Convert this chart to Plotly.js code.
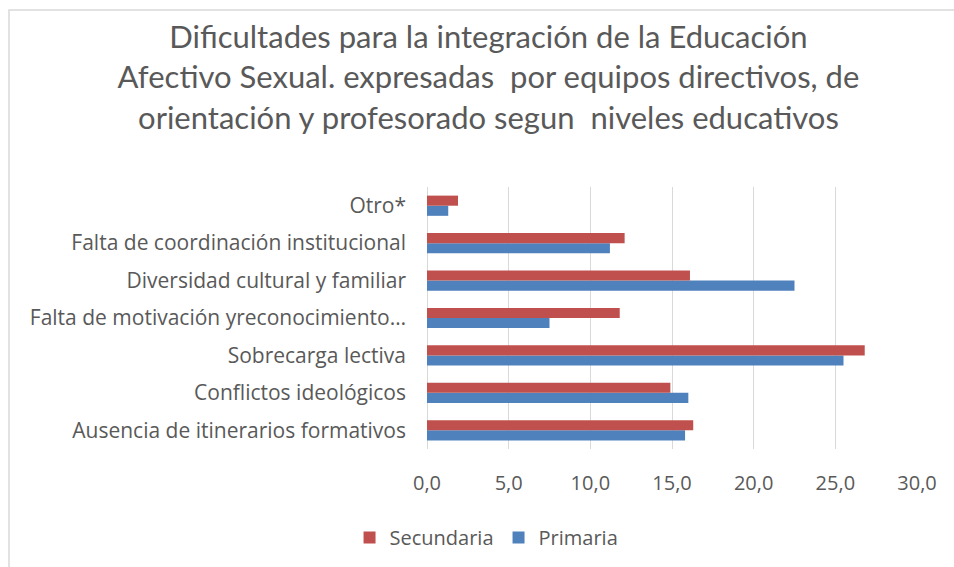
<!DOCTYPE html>
<html>
<head>
<meta charset="utf-8">
<script src="https://cdn.plot.ly/plotly-3.0.1.min.js"></script>
<style>html,body{margin:0;padding:0;background:#fff;}#chart{width:954px;height:567px;}</style>
</head>
<body>
<div id="chart"></div>
<script>
const categories = [
  "Ausencia de itinerarios formativos",
  "Conflictos ideológicos",
  "Sobrecarga lectiva",
  "Falta de motivación yreconocimiento…",
  "Diversidad cultural y familiar",
  "Falta de coordinación institucional",
  "Otro*"
];
const primaria = [15.8, 16.0, 25.5, 7.5, 22.5, 11.2, 1.3];
const secundaria = [16.3, 14.9, 26.8, 11.8, 16.1, 12.1, 1.9];
const xTicks = [0, 5, 10, 15, 20, 25, 30];

const gray = '#595959';
const font = 'Open Sans, Liberation Sans, sans-serif';

const traces = [
  {type: 'bar', orientation: 'h', name: 'Primaria', y: categories, x: primaria,
   marker: {color: '#4F81BD'}, hoverinfo: 'x+y'},
  {type: 'bar', orientation: 'h', name: 'Secundaria', y: categories, x: secundaria,
   marker: {color: '#C0504D'}, hoverinfo: 'x+y'}
];

const layout = {
  width: 954, height: 567,
  margin: {l: 427, r: 37, t: 187, b: 118},
  paper_bgcolor: '#fff', plot_bgcolor: '#fff',
  separators: ',.',
  barmode: 'group',
  bargap: 0.46,
  bargroupgap: 0,
  font: {family: font, color: gray},
  title: {
    text: 'Dificultades para la integración de la Educación<br>Afectivo Sexual. expresadas  por equipos directivos, de<br>orientación y profesorado segun  niveles educativos',
    font: {family: 'Lato, sans-serif', size: 31, color: gray},
    xref: 'container', x: 0.512, xanchor: 'center',
    yref: 'container', y: 0.915, yanchor: 'top'
  },
  xaxis: {
    range: [0, 30], tickvals: xTicks, tickformat: '.1f',
    showgrid: true, gridcolor: '#D9D9D9', gridwidth: 1,
    zeroline: true, zerolinecolor: '#D9D9D9', zerolinewidth: 1,
    showline: false, ticks: '',
    ticklabelstandoff: 20,
    tickfont: {family: font, size: 20, color: gray},
    fixedrange: true
  },
  yaxis: {
    type: 'category', categoryorder: 'array', categoryarray: categories,
    showgrid: false, zeroline: false, showline: false, ticks: '',
    ticklabelstandoff: 20,
    tickfont: {family: font, size: 21, color: gray},
    fixedrange: true
  },
  legend: {
    orientation: 'h', traceorder: 'reversed',
    xref: 'container', x: 0.51, xanchor: 'center',
    yref: 'container', y: 0.052, yanchor: 'middle',
    font: {family: font, size: 20, color: gray},
    itemwidth: 30
  },
  shapes: [{
    type: 'rect', xref: 'paper', yref: 'paper',
    x0: (9 - 427) / 490, x1: (970 - 427) / 490,
    y0: (449 - 580) / 262, y1: (449 - 10) / 262,
    line: {color: '#D9D9D9', width: 1.5}, fillcolor: 'rgba(0,0,0,0)', layer: 'below'
  }]
};

Plotly.newPlot('chart', traces, layout, {displayModeBar: false, staticPlot: true});
</script>
</body>
</html>
